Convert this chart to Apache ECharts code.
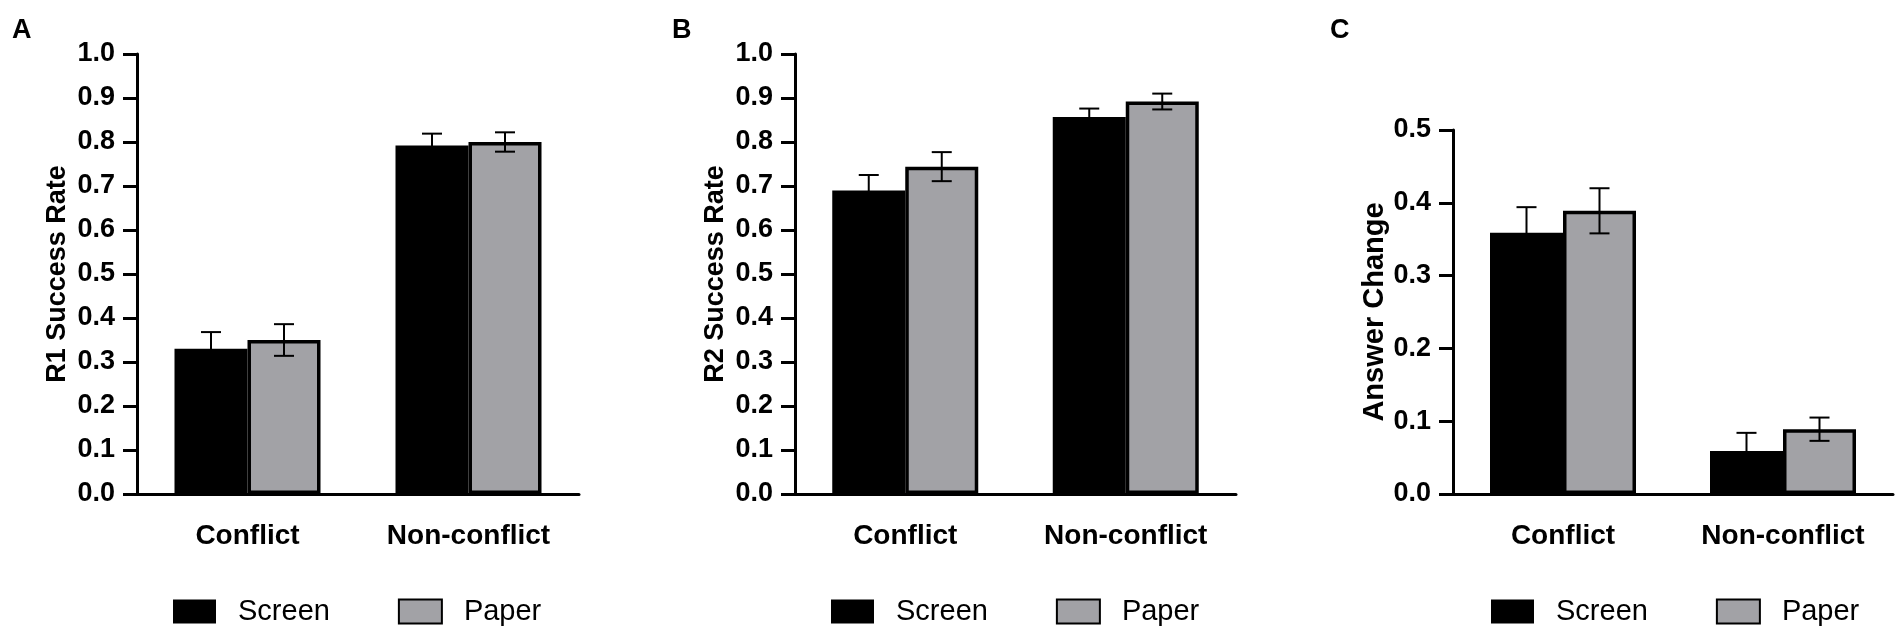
<!DOCTYPE html>
<html>
<head>
<meta charset="utf-8">
<script src="https://cdn.jsdelivr.net/npm/echarts@6/dist/echarts.min.js"></script>
<style>
html, body { margin:0; padding:0; background:#fff; }
#main { width:1904px; height:637px; }
</style>
</head>
<body>
<div id="main"></div>
<script>
var categories = ['Conflict', 'Non-conflict'];
var seriesNames = ['Screen', 'Paper'];

// panel A : R1 success rate
var r1Screen = [0.330, 0.792];
var r1ScreenErr = [0.038, 0.027];
var r1Paper = [0.350, 0.800];
var r1PaperErr = [0.036, 0.022];

// panel B : R2 success rate
var r2Screen = [0.690, 0.857];
var r2ScreenErr = [0.035, 0.019];
var r2Paper = [0.744, 0.892];
var r2PaperErr = [0.033, 0.018];

// panel C : answer change
var chScreen = [0.359, 0.059];
var chScreenErr = [0.035, 0.025];
var chPaper = [0.389, 0.089];
var chPaperErr = [0.031, 0.016];

var yTitles = ['R1 Success Rate', 'R2 Success Rate', 'Answer Change'];
var yMax = [1.0, 1.0, 0.5];
var panelLetters = ['A', 'B', 'C'];

var FONT = 'Liberation Sans, Arial, Helvetica, sans-serif';
var PAPER_GREY = '#a2a2a6';
var BAR_W = 73;

var grids = [
	{left:137, top:54, width:442, height:440},
	{left:795, top:54, width:441, height:440},
	{left:1453, top:130, width:440, height:364}
];
var legendLeft = [173, 831, 1491];
var letterLeft = [12, 672, 1330];
var nameGaps = [66, 66, 62];
var nameSizes = [27, 27, 29];

function errItem(dx){
	return function(params, api){
		var cat = api.value(0);
		var mean = api.value(1);
		var se = api.value(2);
		var top = api.coord([cat, mean + se]);
		var bot = api.coord([cat, mean - se]);
		var x = top[0] + dx;
		var half = 10;
		var st = {stroke:'#000', lineWidth:2};
		return {
			type:'group',
			children:[
				{type:'line', shape:{x1:x, y1:top[1], x2:x, y2:bot[1]}, style:st},
				{type:'line', shape:{x1:x-half, y1:top[1], x2:x+half, y2:top[1]}, style:st},
				{type:'line', shape:{x1:x-half, y1:bot[1], x2:x+half, y2:bot[1]}, style:st}
			]
		};
	};
}

function errData(mean, err){
	var out = [];
	for(var i = 0; i < mean.length; i++){
		out.push([i, mean[i], err[i]]);
	}
	return out;
}

var panels = [
	[r1Screen, r1ScreenErr, r1Paper, r1PaperErr],
	[r2Screen, r2ScreenErr, r2Paper, r2PaperErr],
	[chScreen, chScreenErr, chPaper, chPaperErr]
];

var option = {
	animation:false,
	backgroundColor:'#fff',
	title:[],
	legend:[],
	grid:grids,
	xAxis:[],
	yAxis:[],
	series:[]
};

for(var p = 0; p < 3; p++){
	option.title.push({
		text:panelLetters[p],
		left:letterLeft[p],
		top:17,
		padding:0,
		textStyle:{fontFamily:FONT, fontSize:27, fontWeight:'bold', color:'#000'}
	});
	option.legend.push({
		left:legendLeft[p],
		top:597,
		orient:'horizontal',
		itemWidth:43,
		itemHeight:24,
		itemGap:68,
		padding:0,
		icon:'rect',
		data:seriesNames.map(function(n){ return {name:n + '_' + p}; }),
		formatter:function(name){ return name.split('_')[0]; },
		textStyle:{fontFamily:FONT, fontSize:29, color:'#000', padding:[0,0,0,17]}
	});
	option.xAxis.push({
		type:'category',
		gridIndex:p,
		data:categories,
		axisLine:{lineStyle:{color:'#000', width:3}},
		axisTick:{show:false},
		axisLabel:{color:'#000', fontFamily:FONT, fontSize:28, fontWeight:'bold', margin:28}
	});
	option.yAxis.push({
		type:'value',
		gridIndex:p,
		min:0,
		max:yMax[p],
		interval:0.1,
		name:yTitles[p],
		nameLocation:'middle',
		nameGap:nameGaps[p],
		nameTextStyle:{color:'#000', fontFamily:FONT, fontSize:nameSizes[p], fontWeight:'bold'},
		splitLine:{show:false},
		axisLine:{show:true, lineStyle:{color:'#000', width:3}},
		axisTick:{show:true, length:14, lineStyle:{color:'#000', width:3}},
		axisLabel:{color:'#000', fontFamily:FONT, fontSize:27, fontWeight:'bold', margin:22,
			formatter:function(v){ return v.toFixed(1); }}
	});
	var d = panels[p];
	option.series.push({
		name:'Screen_' + p,
		type:'bar',
		xAxisIndex:p,
		yAxisIndex:p,
		barWidth:BAR_W,
		barGap:'0%',
		itemStyle:{color:'#000', borderColor:'#000', borderWidth:0},
		data:d[0]
	});
	option.series.push({
		name:'Paper_' + p,
		type:'bar',
		xAxisIndex:p,
		yAxisIndex:p,
		barWidth:BAR_W,
		barGap:'0%',
		itemStyle:{color:PAPER_GREY, borderColor:'#000', borderWidth:3.5},
		data:d[2]
	});
	option.series.push({
		type:'custom',
		xAxisIndex:p,
		yAxisIndex:p,
		z:10,
		renderItem:errItem(-BAR_W / 2),
		data:errData(d[0], d[1])
	});
	option.series.push({
		type:'custom',
		xAxisIndex:p,
		yAxisIndex:p,
		z:10,
		renderItem:errItem(BAR_W / 2),
		data:errData(d[2], d[3])
	});
}

var chart = echarts.init(document.getElementById('main'));
chart.setOption(option);
</script>
</body>
</html>
